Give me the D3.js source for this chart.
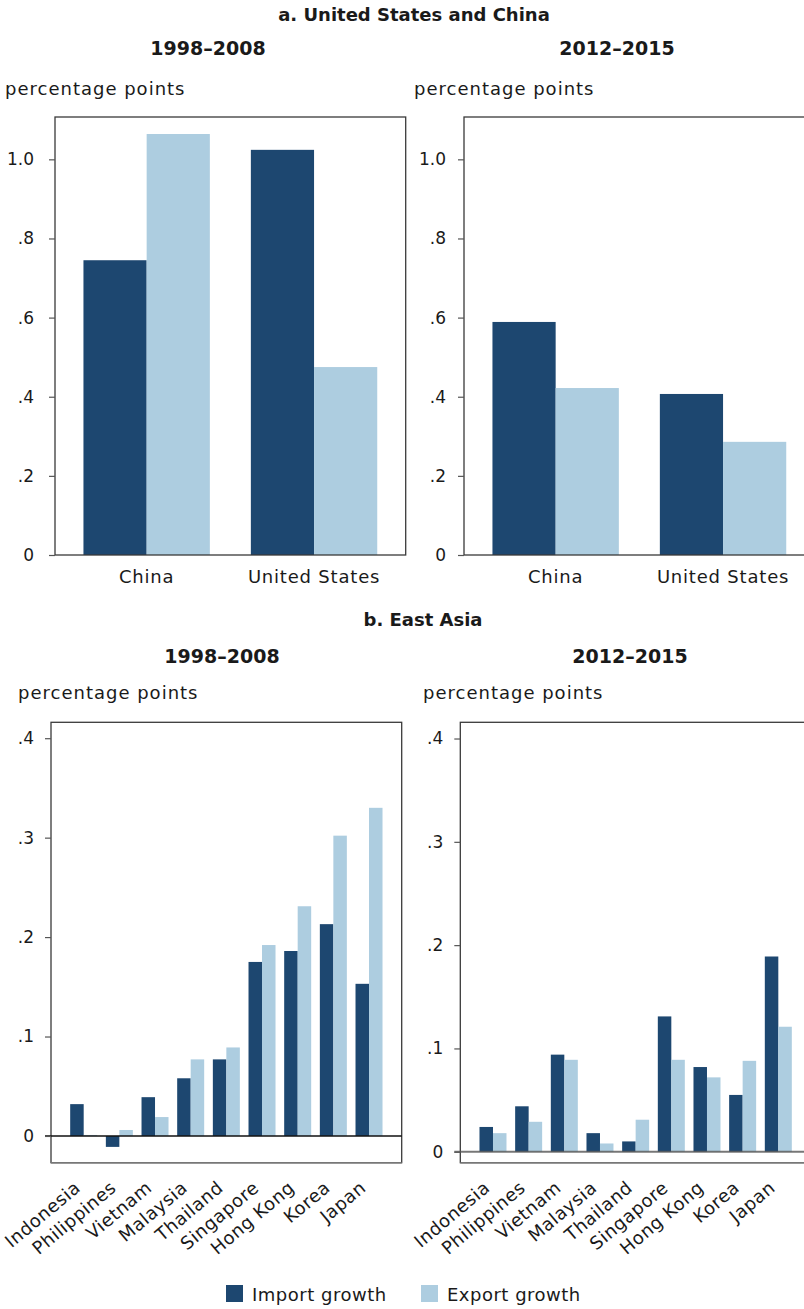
<!DOCTYPE html>
<html>
<head>
<meta charset="utf-8">
<script src="https://cdn.jsdelivr.net/npm/d3@7"></script>
<style>
  body { margin: 0; background: #ffffff; }
  text { font-family: "DejaVu Sans", sans-serif; fill: #1a1a1a; }
</style>
</head>
<body>
<svg id="chart" width="804" height="1309"></svg>
<script>
// Series and colours
const seriesNames = ["Import growth", "Export growth"];
const seriesColors = ["#1d4770", "#adcde0"];

// Panel a: United States and China
const usChinaCategories = ["China", "United States"];
const usChinaImport9808 = [0.745, 1.024];
const usChinaExport9808 = [1.064, 0.475];
const usChinaImport1215 = [0.589, 0.407];
const usChinaExport1215 = [0.422, 0.286];
const usChinaTicks = [0, 0.2, 0.4, 0.6, 0.8, 1.0];
const usChinaTickLabels = ["0", ".2", ".4", ".6", ".8", "1.0"];

// Panel b: East Asia
const eastAsiaCategories = ["Indonesia", "Philippines", "Vietnam", "Malaysia", "Thailand",
                            "Singapore", "Hong Kong", "Korea", "Japan"];
const eastAsiaImport9808 = [0.032, -0.011, 0.039, 0.058, 0.077, 0.175, 0.186, 0.213, 0.153];
const eastAsiaExport9808 = [0.001, 0.006, 0.019, 0.077, 0.089, 0.192, 0.231, 0.302, 0.330];
const eastAsiaImport1215 = [0.024, 0.044, 0.094, 0.018, 0.010, 0.131, 0.082, 0.055, 0.189];
const eastAsiaExport1215 = [0.018, 0.029, 0.089, 0.008, 0.031, 0.089, 0.072, 0.088, 0.121];
const eastAsiaTicks = [0, 0.1, 0.2, 0.3, 0.4];
const eastAsiaTickLabels = ["0", ".1", ".2", ".3", ".4"];

const periodLabels = ["1998\u20132008", "2012\u20132015"];
const unitLabel = "percentage points";

const svg = d3.select("#chart");

function drawPanel(o) {
  const g = svg.append("g");
  const x = d3.scaleBand().domain(o.categories).range([o.left, o.right])
    .paddingInner(o.padInner).paddingOuter(o.padOuter);
  const xs = d3.scaleBand().domain([0, 1]).range([0, x.bandwidth()]);
  const y = d3.scaleLinear().domain(o.yDomain).range([o.bottom, o.top]);

  const rows = o.categories.map((c, i) => ({ cat: c, vals: [o.imports[i], o.exports[i]] }));

  // bars
  const grp = g.selectAll("g.grp").data(rows).join("g")
    .attr("transform", d => `translate(${x(d.cat)},0)`);
  grp.selectAll("rect").data(d => d.vals.map((v, k) => ({ v, k }))).join("rect")
    .attr("x", d => xs(d.k))
    .attr("width", xs.bandwidth())
    .attr("y", d => y(Math.max(0, d.v)))
    .attr("height", d => Math.abs(y(d.v) - y(0)))
    .attr("fill", d => seriesColors[d.k]);

  // frame
  g.append("rect")
    .attr("x", o.left).attr("y", o.top)
    .attr("width", o.right - o.left).attr("height", o.bottom - o.top)
    .attr("fill", "none").attr("stroke", "#3a3a3a").attr("stroke-width", 1.3);
  if (o.bottomStroke) {
    g.append("line")
      .attr("x1", o.left).attr("x2", o.right)
      .attr("y1", o.bottom).attr("y2", o.bottom)
      .attr("stroke", o.bottomStroke).attr("stroke-width", 1.6);
  }

  // zero line
  if (o.zeroStroke) {
    g.append("line")
      .attr("x1", o.left - 6).attr("x2", o.right)
      .attr("y1", y(0)).attr("y2", y(0))
      .attr("stroke", o.zeroStroke).attr("stroke-width", o.zeroWidth)
      .attr("stroke-opacity", o.zeroOpacity);
  }

  // y axis
  const ax = g.append("g").attr("transform", `translate(${o.left},0)`)
    .call(d3.axisLeft(y).tickValues(o.ticks)
      .tickFormat((d, i) => o.tickLabels[i]).tickSize(6).tickPadding(o.tickPad));
  ax.select(".domain").remove();
  ax.selectAll(".tick line").attr("stroke", "#555").attr("stroke-width", 1.2);
  ax.selectAll(".tick text").attr("font-size", 17).attr("fill", "#1a1a1a")
    .attr("font-family", "\"DejaVu Sans\", sans-serif");

  // category labels
  if (o.rotate) {
    g.selectAll("text.cat").data(o.categories).join("text")
      .attr("class", "cat")
      .attr("text-anchor", "end")
      .attr("font-size", 18)
      .attr("letter-spacing", 0.5)
      .attr("transform", d => `translate(${x(d) + x.bandwidth() / 2 - 2},${o.bottom + 27}) rotate(-40)`)
      .text(d => d);
  } else {
    g.selectAll("text.cat").data(o.categories).join("text")
      .attr("class", "cat")
      .attr("text-anchor", "middle")
      .attr("font-size", 18)
      .attr("letter-spacing", 0.8)
      .attr("x", d => x(d) + x.bandwidth() / 2)
      .attr("y", o.bottom + 28)
      .text(d => d);
  }

  // period title and unit
  svg.append("text").attr("x", o.titleX).attr("y", o.titleY)
    .attr("text-anchor", "middle").attr("font-size", 19).attr("font-weight", 700)
    .text(o.period);
  svg.append("text").attr("x", o.unitX).attr("y", o.unitY)
    .attr("font-size", 18).attr("letter-spacing", 1).text(unitLabel);
}

// Section headings
svg.append("text").attr("x", 414).attr("y", 21).attr("text-anchor", "middle")
  .attr("font-size", 18).attr("font-weight", 700).text("a. United States and China");
svg.append("text").attr("x", 423).attr("y", 626).attr("text-anchor", "middle")
  .attr("font-size", 18).attr("font-weight", 700).text("b. East Asia");

const topCommon = {
  categories: usChinaCategories, top: 117, bottom: 555, yDomain: [0, 1.107],
  ticks: usChinaTicks, tickLabels: usChinaTickLabels, padInner: 0.245, padOuter: 0.17,
  titleY: 55, unitY: 95, rotate: false
};
drawPanel(Object.assign({}, topCommon, {
  left: 55, right: 405.7, imports: usChinaImport9808, exports: usChinaExport9808,
  tickPad: 15, titleX: 208, unitX: 5, period: periodLabels[0]
}));
drawPanel(Object.assign({}, topCommon, {
  left: 464, right: 814.7, imports: usChinaImport1215, exports: usChinaExport1215,
  tickPad: 12, titleX: 617, unitX: 414, period: periodLabels[1]
}));

const botCommon = {
  categories: eastAsiaCategories, top: 722.3, bottom: 1162.7,
  ticks: eastAsiaTicks, tickLabels: eastAsiaTickLabels, padInner: 0.243, padOuter: 0.538,
  titleY: 663, unitY: 699, rotate: true, bottomStroke: "#777"
};
drawPanel(Object.assign({}, botCommon, {
  left: 51, right: 401.7, yDomain: [-0.0269, 0.416],
  imports: eastAsiaImport9808, exports: eastAsiaExport9808,
  zeroStroke: "#111", zeroWidth: 1.4, zeroOpacity: 1,
  tickPad: 11, titleX: 222, unitX: 18, period: periodLabels[0]
}));
drawPanel(Object.assign({}, botCommon, {
  left: 460.3, right: 811, yDomain: [-0.0106, 0.4157],
  imports: eastAsiaImport1215, exports: eastAsiaExport1215,
  zeroStroke: "#555", zeroWidth: 2, zeroOpacity: 0.8,
  tickPad: 11, titleX: 630, unitX: 423, period: periodLabels[1]
}));

// Legend
const legend = svg.append("g").attr("transform", "translate(226,1285)");
const legendX = [0, 195];
seriesNames.forEach((name, i) => {
  legend.append("rect").attr("x", legendX[i]).attr("y", 0)
    .attr("width", 17).attr("height", 17).attr("fill", seriesColors[i]);
  legend.append("text").attr("x", legendX[i] + 26).attr("y", 15.5)
    .attr("font-size", 18).attr("letter-spacing", 0.5).text(name);
});
</script>
</body>
</html>
